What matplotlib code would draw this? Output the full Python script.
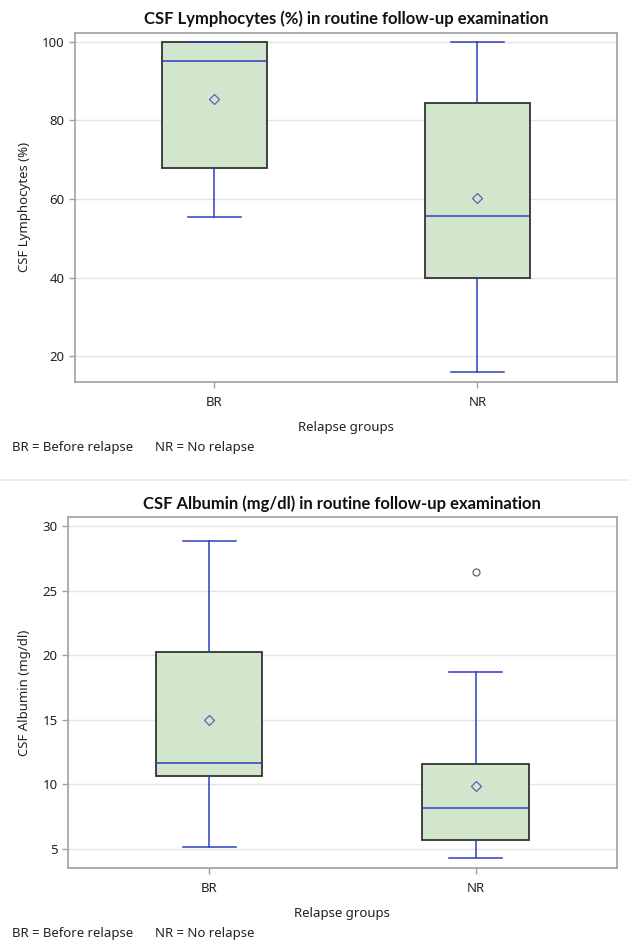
import matplotlib
matplotlib.use("Agg")
import matplotlib.pyplot as plt
from matplotlib.lines import Line2D

plt.rcParams['font.family'] = ['Noto Sans', 'DejaVu Sans']

# data
groups = ['BR', 'NR']

lym_whislo = [55.5, 16.0]
lym_q1 = [67.9, 40.0]
lym_med = [95.0, 55.8]
lym_q3 = [100.0, 84.3]
lym_whishi = [100.0, 100.0]
lym_mean = [85.5, 60.3]
lym_fliers = [[], []]

alb_whislo = [5.13, 4.33]
alb_q1 = [10.65, 5.72]
alb_med = [11.7, 8.17]
alb_q3 = [20.3, 11.6]
alb_whishi = [28.86, 18.68]
alb_mean = [15.0, 9.87]
alb_fliers = [[], [26.5]]

fill_c = '#D2E5CD'
edge_c = '#333333'
blue = '#2E3DBE'
grid_c = '#E4E4E4'
frame_c = '#A0A0A0'


def draw_panel(ax, title, ylabel, whislo, q1, med, q3, whishi, mean, fliers, ylim, yticks):
    stats = []
    for i, g in enumerate(groups):
        stats.append(dict(label=g, whislo=whislo[i], q1=q1[i], med=med[i], q3=q3[i],
                          whishi=whishi[i], mean=mean[i], fliers=fliers[i]))
    ax.bxp(stats, positions=[0, 1], widths=0.4, capwidths=0.2, showmeans=True,
           patch_artist=True, zorder=3,
           boxprops=dict(facecolor=fill_c, edgecolor=edge_c, linewidth=1.3),
           medianprops=dict(color=blue, linewidth=1.1),
           whiskerprops=dict(color=blue, linewidth=1.1),
           capprops=dict(color=blue, linewidth=1.1, zorder=4),
           meanprops=dict(marker='D', markerfacecolor='none', markeredgecolor='#5566B0',
                          markersize=5, markeredgewidth=0.9),
           flierprops=dict(marker='o', markerfacecolor='none', markeredgecolor='#666666',
                           markersize=5, markeredgewidth=0.9))
    ax.set_xlim(-0.53, 1.53)
    ax.set_ylim(*ylim)
    ax.set_yticks(yticks)
    ax.set_xticks([0, 1])
    ax.set_xticklabels(groups)
    ax.yaxis.grid(True, color=grid_c, linewidth=1.0, zorder=0)
    ax.set_axisbelow(True)
    for s in ax.spines.values():
        s.set_color(frame_c)
        s.set_linewidth(1.2)
    ax.tick_params(axis='both', colors=frame_c, labelcolor='#222222', labelsize=9.5,
                   length=4, width=1)
    ax.tick_params(axis='x', pad=6)
    ax.set_title(title, fontsize=12, fontweight='bold', family=['Lato', 'DejaVu Sans'],
                 pad=6, color='#111111')
    ax.set_ylabel(ylabel, fontsize=9.5, color='#222222', labelpad=8)
    ax.set_xlabel('Relapse groups', fontsize=9.5, color='#222222', labelpad=9)


fig = plt.figure(figsize=(6.3, 9.44), dpi=100)
ax1 = fig.add_axes([0.119, 0.5957, 0.860, 0.3697])
ax2 = fig.add_axes([0.108, 0.0808, 0.871, 0.3712])

draw_panel(ax1, 'CSF Lymphocytes (%) in routine follow-up examination', 'CSF Lymphocytes (%)',
           lym_whislo, lym_q1, lym_med, lym_q3, lym_whishi, lym_mean, lym_fliers,
           (13.6, 102.3), [20, 40, 60, 80, 100])
draw_panel(ax2, 'CSF Albumin (mg/dl) in routine follow-up examination', 'CSF Albumin (mg/dl)',
           alb_whislo, alb_q1, alb_med, alb_q3, alb_whishi, alb_mean, alb_fliers,
           (3.55, 30.7), [5, 10, 15, 20, 25, 30])

# footnotes
for ypix in [447, 933]:
    fig.text(12 / 630, 1 - ypix / 944, 'BR = Before relapse', fontsize=9.5, va='center', color='#222222')
    fig.text(155 / 630, 1 - ypix / 944, 'NR = No relapse', fontsize=9.5, va='center', color='#222222')

# faint separator between the two graphs
fig.add_artist(Line2D([0, 1], [1 - 480 / 944, 1 - 480 / 944], color='#E8E8E8', linewidth=1.2))

fig.savefig('out.png', dpi=100)
